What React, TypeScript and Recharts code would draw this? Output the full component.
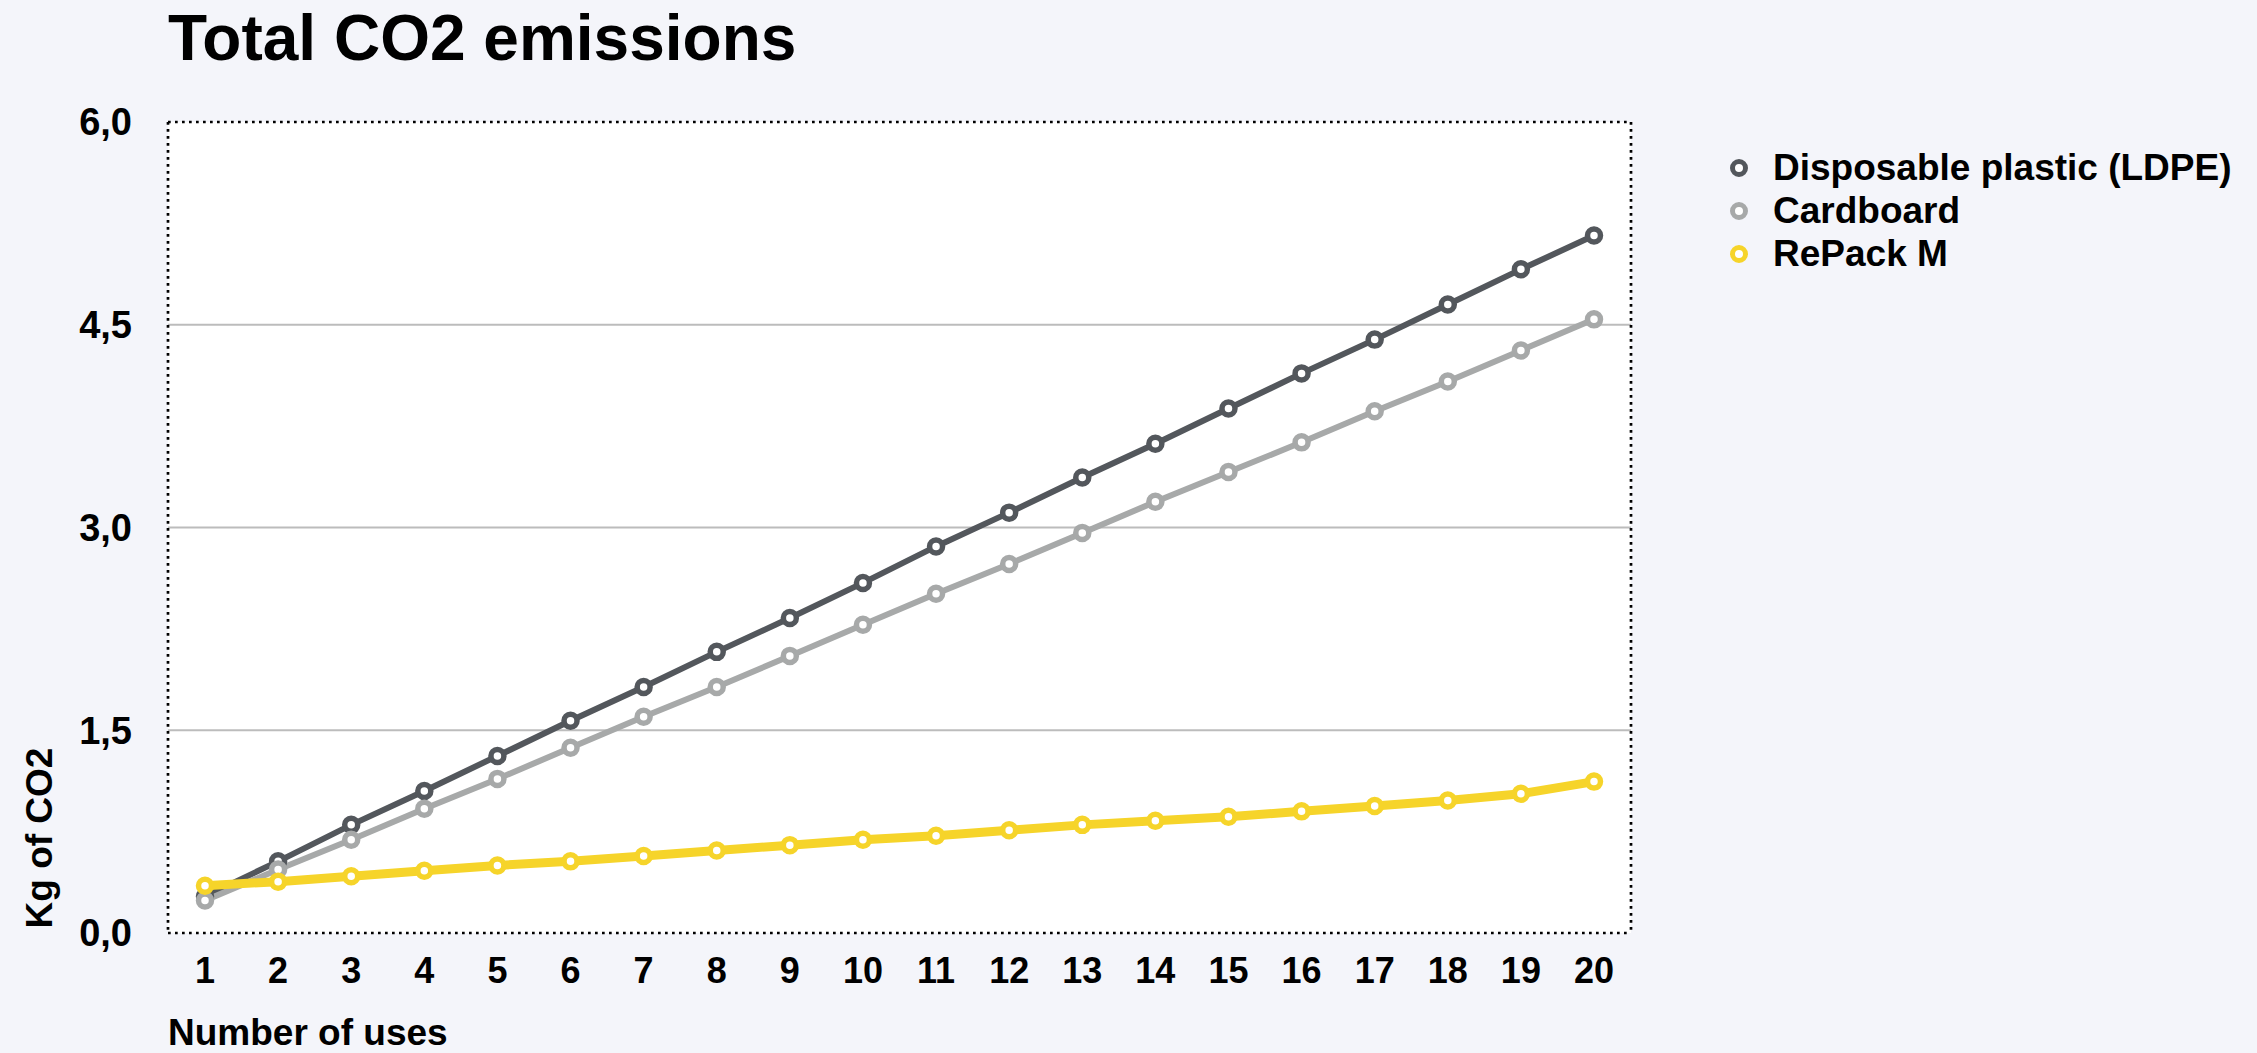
import React from "react";
import {
  LineChart,
  Line,
  XAxis,
  YAxis,
  CartesianGrid,
  ReferenceLine,
} from "recharts";

// Total CO2 emissions per number of uses, three packaging types.

const USES = [1, 2, 3, 4, 5, 6, 7, 8, 9, 10, 11, 12, 13, 14, 15, 16, 17, 18, 19, 20];

const PLASTIC = [
  0.27, 0.53, 0.8, 1.05, 1.31, 1.57, 1.82, 2.08, 2.33, 2.59, 2.86, 3.11, 3.37, 3.62,
  3.88, 4.14, 4.39, 4.65, 4.91, 5.16,
];
const CARDBOARD = [
  0.24, 0.47, 0.69, 0.92, 1.14, 1.37, 1.6, 1.82, 2.05, 2.28, 2.51, 2.73, 2.96, 3.19,
  3.41, 3.63, 3.86, 4.08, 4.31, 4.54,
];
const REPACK = [
  0.35, 0.38, 0.42, 0.46, 0.5, 0.53, 0.57, 0.61, 0.65, 0.69, 0.72, 0.76, 0.8, 0.83,
  0.86, 0.9, 0.94, 0.98, 1.03, 1.12,
];

const Y_TICKS = [0, 1.5, 3, 4.5, 6];
const GRID_VALUES = [1.5, 3, 4.5];

const SERIES = [
  { key: "plastic", name: "Disposable plastic (LDPE)", color: "#53575c", width: 6 },
  { key: "cardboard", name: "Cardboard", color: "#a7a9a9", width: 6 },
  { key: "repack", name: "RePack M", color: "#f6d42a", width: 9 },
];

const data = USES.map((u, i) => ({
  use: u,
  plastic: PLASTIC[i],
  cardboard: CARDBOARD[i],
  repack: REPACK[i],
}));

const FONT = '"Liberation Sans", Arial, Helvetica, sans-serif';
const BG = "#f4f5fa";
const DOTTED = { stroke: "#000", strokeWidth: 2.7, strokeDasharray: "2.7 4.3" };
const X_TICK = { fill: "#000", fontSize: 36, fontWeight: 700, fontFamily: FONT };
const Y_TICK = { fill: "#000", fontSize: 38, fontWeight: 700, fontFamily: FONT };

function ChartLegend() {
  return (
    <div style={{ position: "absolute", left: 1726, top: 146, fontFamily: FONT }}>
      {SERIES.map((s) => (
        <div
          key={s.key}
          style={{ display: "flex", alignItems: "center", height: 43 }}
        >
          <svg width={26} height={26} style={{ marginRight: 21 }}>
            <circle cx={13} cy={13} r={6.5} fill="#fff" stroke={s.color} strokeWidth={5} />
          </svg>
          <span style={{ fontSize: 37, fontWeight: 700, color: "#000" }}>{s.name}</span>
        </div>
      ))}
    </div>
  );
}

export default function App() {
  return (
    <div
      style={{
        position: "relative",
        width: 2257,
        height: 1053,
        background: BG,
        fontFamily: FONT,
      }}
    >
      <style>{`body{margin:0;background:${BG};}`}</style>
      <div
        style={{
          position: "absolute",
          left: 168,
          top: 6,
          fontSize: 64,
          lineHeight: "64px",
          fontWeight: 700,
          color: "#000",
        }}
      >
        Total CO2 emissions
      </div>
      <LineChart
        width={2257}
        height={1053}
        data={data}
        margin={{ top: 120, right: 624, bottom: 60, left: 68 }}
      >
        <CartesianGrid fill="#fff" horizontal={false} vertical={false} />
        {GRID_VALUES.map((v) => (
          <ReferenceLine key={v} y={v} stroke="#bcbcbc" strokeWidth={2} />
        ))}
        <XAxis
          dataKey="use"
          height={60}
          padding={{ left: 37, right: 37 }}
          tick={X_TICK}
          tickLine={false}
          tickSize={6}
          tickMargin={18}
          axisLine={DOTTED}
          interval={0}
          label={{
            content: () => (
              <text
                x={168}
                y={1045}
                fill="#000"
                fontSize={37}
                fontWeight={700}
                fontFamily={FONT}
              >
                Number of uses
              </text>
            ),
          }}
        />
        <XAxis
          xAxisId="top"
          dataKey="use"
          orientation="top"
          height={2}
          tick={false}
          tickLine={false}
          axisLine={DOTTED}
        />
        <YAxis
          width={100}
          domain={[0, 6]}
          ticks={Y_TICKS}
          tick={Y_TICK}
          tickLine={false}
          tickSize={6}
          tickMargin={30}
          axisLine={DOTTED}
          tickFormatter={(v) => Number(v).toFixed(1).replace(".", ",")}
          label={{
            content: () => (
              <text
                x={39}
                y={838}
                transform="rotate(-90 39 838)"
                textAnchor="middle"
                dominantBaseline="central"
                fill="#000"
                fontSize={37}
                fontWeight={700}
                fontFamily={FONT}
              >
                Kg of CO2
              </text>
            ),
          }}
        />
        <YAxis
          yAxisId="right"
          orientation="right"
          width={2}
          domain={[0, 6]}
          tick={false}
          tickLine={false}
          axisLine={DOTTED}
        />
        {SERIES.map((s) => (
          <Line
            key={s.key}
            type="linear"
            dataKey={s.key}
            name={s.name}
            stroke={s.color}
            strokeWidth={s.width}
            dot={{ r: 6.5, fill: "#fff", stroke: s.color, strokeWidth: 5.5 }}
            activeDot={false}
            isAnimationActive={false}
          />
        ))}
      </LineChart>
      <ChartLegend />
    </div>
  );
}
